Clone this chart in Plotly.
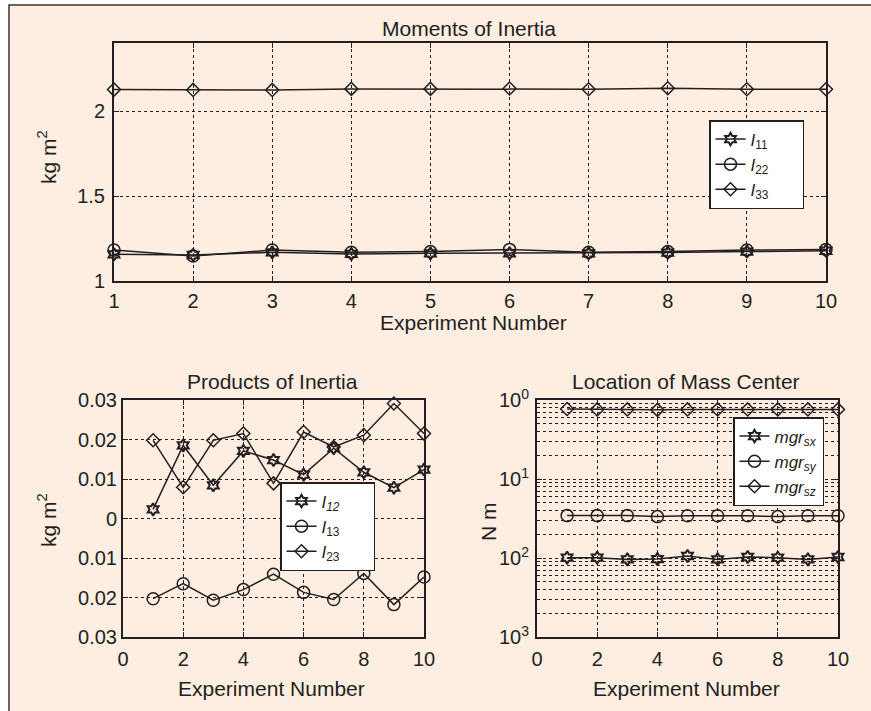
import plotly.graph_objects as go

W, H = 871, 711
FONT = "Liberation Sans, Arial, Helvetica, sans-serif"
INK = "#231f20"
CREAM = "#fdeee1"

# ---------------- data ----------------
exp_num = [1, 2, 3, 4, 5, 6, 7, 8, 9, 10]

I11 = [1.157, 1.153, 1.169, 1.159, 1.163, 1.163, 1.163, 1.167, 1.173, 1.178]
I22 = [1.182, 1.147, 1.182, 1.169, 1.173, 1.186, 1.169, 1.173, 1.182, 1.186]
I33 = [2.126, 2.124, 2.124, 2.130, 2.130, 2.132, 2.128, 2.134, 2.128, 2.128]

I12 = [0.0023, 0.0185, 0.0084, 0.0171, 0.0148, 0.0111, 0.0178, 0.0117, 0.0078, 0.0124]
I13 = [-0.0203, -0.0165, -0.0207, -0.0180, -0.0141, -0.0187, -0.0205, -0.0139, -0.0218, -0.0148]
I23 = [0.0198, 0.0079, 0.0198, 0.0215, 0.0089, 0.0219, 0.0181, 0.0211, 0.0291, 0.0215]

mgr_sx = [0.0101, 0.0101, 0.0096, 0.0097, 0.0106, 0.0096, 0.0103, 0.0101, 0.0096, 0.0103]
mgr_sy = [0.0344, 0.0344, 0.0344, 0.0334, 0.0342, 0.0342, 0.0342, 0.0334, 0.0342, 0.0342]
mgr_sz = [0.77, 0.76, 0.76, 0.75, 0.76, 0.76, 0.76, 0.76, 0.76, 0.76]

top_yticks = [1, 1.5, 2]
top_yticklabels = ["1", "1.5", "2"]
bl_yticks = [-0.03, -0.02, -0.01, 0, 0.01, 0.02, 0.03]
bl_yticklabels = ["0.03", "0.02", "0.01", "0", "0.01", "0.02", "0.03"]
br_yticks = [0.001, 0.01, 0.1, 1]
br_yticklabels = ["10<sup>3</sup>", "10<sup>2</sup>", "10<sup>1</sup>", "10<sup>0</sup>"]
bottom_xticks = [0, 2, 4, 6, 8, 10]

# ---------------- helpers ----------------
def px_x(p):
    return p / W

def px_y(p):
    return 1 - p / H

LINE = dict(color=INK, width=1.5)
PAD = "\u00a0" * 6  # widens the legend boxes like the reference

STAR = dict(symbol="hexagram-open", size=9.5, lw=2.0)
CIRC = dict(symbol="circle-open", size=12, lw=1.5)
DIAM = dict(symbol="diamond-open", size=10, lw=1.5)

def series(x, y, name, m, xa, ya, legend):
    return go.Scatter(
        x=x, y=y, name=name, mode="lines+markers",
        line=LINE,
        marker=dict(symbol=m["symbol"], size=m["size"], color=INK,
                    line=dict(color=INK, width=m["lw"])),
        xaxis=xa, yaxis=ya, legend=legend, cliponaxis=False,
    )

fig = go.Figure()

# top plot
fig.add_trace(series(exp_num, I11, "<i>I</i><sub>11</sub>" + PAD, STAR, "x", "y", "legend"))
fig.add_trace(series(exp_num, I22, "<i>I</i><sub>22</sub>" + PAD, CIRC, "x", "y", "legend"))
fig.add_trace(series(exp_num, I33, "<i>I</i><sub>33</sub>" + PAD, DIAM, "x", "y", "legend"))

# bottom-left
fig.add_trace(series(exp_num, I12, "<i>I<sub>12</sub></i>" + PAD, STAR, "x2", "y2", "legend2"))
fig.add_trace(series(exp_num, I13, "<i>I</i><sub>13</sub>" + PAD, CIRC, "x2", "y2", "legend2"))
fig.add_trace(series(exp_num, I23, "<i>I</i><sub>23</sub>" + PAD, DIAM, "x2", "y2", "legend2"))

# bottom-right
fig.add_trace(series(exp_num, mgr_sx, "<i>mgr<sub>sx</sub></i>", STAR, "x3", "y3", "legend3"))
fig.add_trace(series(exp_num, mgr_sy, "<i>mgr<sub>sy</sub></i>", CIRC, "x3", "y3", "legend3"))
fig.add_trace(series(exp_num, mgr_sz, "<i>mgr<sub>sz</sub></i>", DIAM, "x3", "y3", "legend3"))

tickfont = dict(family=FONT, size=20, color=INK)
axis_common = dict(
    showline=True, linecolor=INK, linewidth=2, mirror="ticks",
    ticks="inside", ticklen=5, tickcolor=INK, tickwidth=1,
    showgrid=True, gridcolor=INK, griddash="dot", gridwidth=1,
    zeroline=False, tickfont=tickfont, automargin=False,
)

layout = dict(
    width=W, height=H,
    margin=dict(l=0, r=0, t=0, b=0),
    paper_bgcolor="white", plot_bgcolor=CREAM,
    showlegend=True,
    font=dict(family=FONT, color=INK),
    xaxis=dict(domain=[px_x(114), px_x(826)], range=[1, 10],
               tickvals=exp_num, anchor="y", ticklabelstandoff=1, **axis_common),
    yaxis=dict(domain=[px_y(281), px_y(43)], range=[1, 2.4],
               tickvals=top_yticks, ticktext=top_yticklabels, anchor="x",
               ticklabelstandoff=3, **axis_common),
    xaxis2=dict(domain=[px_x(123), px_x(424)], range=[0, 10],
                tickvals=bottom_xticks, anchor="y2", ticklabelstandoff=3, **axis_common),
    yaxis2=dict(domain=[px_y(637), px_y(400)], range=[-0.03, 0.03],
                tickvals=bl_yticks, ticktext=bl_yticklabels, anchor="x2",
                ticklabelstandoff=0, **axis_common),
    xaxis3=dict(domain=[px_x(537), px_x(838)], range=[0, 10],
                tickvals=bottom_xticks, anchor="y3", ticklabelstandoff=3, **axis_common),
    yaxis3=dict(domain=[px_y(637), px_y(400)], type="log", range=[-3, 0],
                tickvals=br_yticks, ticktext=br_yticklabels, anchor="x3",
                ticklabelstandoff=2,
                minor=dict(dtick="D1", showgrid=True, gridcolor=INK, griddash="dot",
                           gridwidth=1, ticks=""),
                **axis_common),
)

legend_common = dict(
    bgcolor="white", bordercolor=INK, borderwidth=1.5,
    font=dict(family=FONT, size=17, color=INK),
    xanchor="left", yanchor="top", tracegroupgap=0, itemwidth=30,
)
layout["legend"] = dict(x=px_x(709), y=px_y(120), **legend_common)
layout["legend2"] = dict(x=px_x(280), y=px_y(482), **legend_common)
layout["legend3"] = dict(x=px_x(733), y=px_y(417), **legend_common)

fig.update_layout(**layout)

# outer framed panel
fig.add_shape(type="rect", xref="paper", yref="paper",
              x0=px_x(9), x1=1.05, y0=-0.05, y1=px_y(5),
              fillcolor=CREAM, line=dict(color="#333333", width=1.5), layer="below")

def ann(text, x, y, size=21, angle=0):
    fig.add_annotation(text=text, x=px_x(x), y=px_y(y), xref="paper", yref="paper",
                       showarrow=False, textangle=angle,
                       font=dict(family=FONT, size=size, color=INK),
                       xanchor="center", yanchor="middle")

ann("Moments of Inertia", 469, 28, 21)
ann("Experiment Number", 473, 322, 21)
ann("kg m<sup>2</sup>", 47, 157, 21, -90)

ann("Products of Inertia", 272, 382, 21)
ann("Experiment Number", 271, 688, 21)
ann("kg m<sup>2</sup>", 47, 520, 21, -90)

ann("Location of Mass Center", 686, 382, 21)
ann("Experiment Number", 686, 688, 21)
ann("N m", 488, 522, 21, -90)

fig.write_html("out.html")
